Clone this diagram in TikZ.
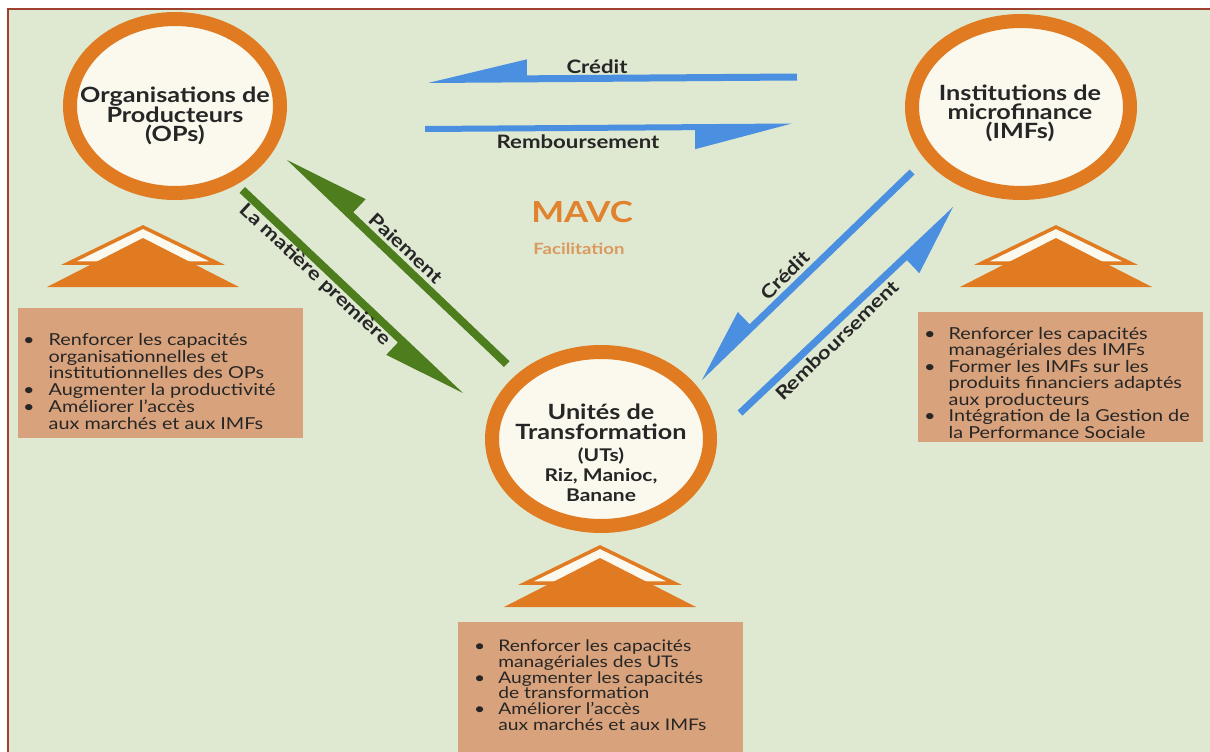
\documentclass[tikz,border=0pt]{standalone}
\usepackage{fontspec}
\setmainfont{Lato}[FakeStretch=1.2]
\usetikzlibrary{calc,shapes.geometric}
\definecolor{bg}{HTML}{DFE9D2}
\definecolor{framec}{HTML}{A0402E}
\definecolor{ring}{HTML}{E07B22}
\definecolor{cream}{HTML}{FBF8EE}
\definecolor{blu}{HTML}{4A8FE0}
\definecolor{grn}{HTML}{4E7D1E}
\definecolor{tanbox}{HTML}{D8A27C}
\definecolor{ink}{HTML}{262626}
\definecolor{mavc}{HTML}{E0822E}
\definecolor{facil}{HTML}{DA9A5E}
% half arrow: colour, start (non-head edge), tip, band thickness, head length, head width
\newcommand\halfarrow[6]{%
  \coordinate (hb) at ($(#3)!#5!(#2)$);
  \fill[#1] (#2) -- (#3) -- ($(hb)!#6!90:(#2)$) -- ($(hb)!#4!90:(#2)$) -- ($(#2)!#4!-90:(#3)$) -- cycle;}
\newcommand\roof[2]{%
  \filldraw[draw=ring, fill=cream, line width=3.5pt, line join=miter] (#1,#2) -- (#1-74,#2+36) -- (#1+74,#2+36) -- cycle;
  \fill[ring] (#1,#2+11) -- (#1-96,#2+60) -- (#1+96,#2+60) -- cycle;}
\begin{document}
\begin{tikzpicture}[x=1pt,y=-1pt,
  ringnode/.style={ellipse, draw=ring, line width=14pt, fill=cream, inner sep=0pt},
  headtxt/.style={font=\fontsize{21}{19}\selectfont\bfseries, text=ink, align=center, inner sep=0pt},
  lab/.style={font=\fontsize{18.5}{20}\selectfont\bfseries, text=ink, inner sep=0pt},
  boxfill/.style={fill=tanbox, inner sep=0pt, anchor=north west},
  boxtext/.style={text=ink, inner sep=0pt, anchor=north west, align=left},
]
\useasboundingbox (0,0) rectangle (1210,752);
\fill[white] (0,0) rectangle (1210,752);
\fill[bg] (7,9) rectangle (1210,752);
\draw[framec, line width=2pt] (7.5,752) -- (7.5,9.5) -- (1210,9.5);

% arrows
\coordinate (c1s) at (797,80.5); \coordinate (c1t) at (428,83);
\halfarrow{blu}{c1s}{c1t}{7pt}{99pt}{23pt}
\coordinate (r1s) at (425,126); \coordinate (r1t) at (792,123.5);
\halfarrow{blu}{r1s}{r1t}{6pt}{97pt}{25pt}
\coordinate (m1s) at (245,187); \coordinate (m1t) at (463,393);
\halfarrow{grn}{m1s}{m1t}{8pt}{82pt}{25pt}
\coordinate (p1s) at (504,367); \coordinate (p1t) at (287,160);
\halfarrow{grn}{p1s}{p1t}{8pt}{84pt}{26pt}
\coordinate (c2s) at (914.5,174.5); \coordinate (c2t) at (702,380);
\halfarrow{blu}{c2s}{c2t}{7pt}{73pt}{24pt}
\coordinate (r2s) at (737.6,410.5); \coordinate (r2t) at (953,207);
\halfarrow{blu}{r2s}{r2t}{7pt}{70pt}{25pt}

% circles
\node[ringnode, minimum width=210pt, minimum height=174pt] (OP) at (175,106) {};
\node[ringnode, minimum width=218pt, minimum height=172pt] (IMF) at (1021,107) {};
\node[ringnode, minimum width=218pt, minimum height=174pt] (UT) at (601,439) {};
\node[headtxt] (OPt) at (175,116) {Organisations de\\Producteurs\\(OPs)};
\node[headtxt] (IMFt) at (1020,113) {Institutions de\\microfinance\\(IMFs)};
\node[headtxt, font=\fontsize{21}{20}\selectfont\bfseries] (UTt) at (601,422) {Unités de\\Transformation};
\node[headtxt, font=\fontsize{17.5}{20}\selectfont\bfseries] (UTs) at (601,475) {(UTs)\\Riz, Manioc,\\Banane};

% labels
\node[lab] (lc1) at (597,67) {Crédit};
\node[lab] (lr1) at (578,142) {Remboursement};
\node[lab, rotate=-42.8] (lm) at (315,275) {La matière première};
\node[lab, rotate=-42.8] (lp) at (406,248) {Paiement};
\node[lab, rotate=44.7] (lc2) at (785,275) {Crédit};
\node[lab, rotate=44] (lr2) at (837,340) {Remboursement};

% centre
\node[font=\fontsize{29}{30}\selectfont\bfseries, text=mavc, inner sep=0pt] (mv) at (582,212) {MAVC};
\node[font=\fontsize{15.5}{16}\selectfont\bfseries, text=facil, inner sep=0pt] (fc) at (579,249) {Facilitation};

% roofs
\roof{143}{227}
\roof{1056}{227}
\roof{600}{547}

% boxes
\node[boxfill, minimum width=285pt, minimum height=130pt] (b1) at (18,308) {};
\node[boxfill, minimum width=285pt, minimum height=130pt] (b2) at (918,312) {};
\node[boxfill, minimum width=285pt, minimum height=130pt] (b3) at (458,622) {};

\node[boxtext, font=\fontsize{16.5}{15.3}\selectfont] (t1) at (23,333) {%
\begin{tabular}{@{}l@{\hspace{14pt}}l@{}}
\textbullet & Renforcer les capacités\\
 & organisationnelles et\\
 & institutionnelles des OPs\\
\textbullet & Augmenter la productivité\\
\textbullet & Améliorer l'accès\\
 & aux marchés et aux IMFs
\end{tabular}};
\node[boxtext, font=\fontsize{16.5}{14.5}\selectfont] (t2) at (924,327) {%
\begin{tabular}{@{}l@{\hspace{13pt}}l@{}}
\textbullet & Renforcer les capacités\\
 & managériales des IMFs\\
\textbullet & Former les IMFs sur les\\
 & produits financiers adaptés\\
 & aux producteurs\\
\textbullet & Intégration de la Gestion de\\
 & la Performance Sociale
\end{tabular}};
\node[boxtext, font=\fontsize{16}{12.8}\selectfont] (t3) at (474,640) {%
\begin{tabular}{@{}l@{\hspace{13pt}}l@{}}
\textbullet & Renforcer les capacités\\
 & managériales des UTs\\
\textbullet & Augmenter les capacités\\
 & de transformation\\
\textbullet & Améliorer l'accès\\
 & aux marchés et aux IMFs
\end{tabular}};
\end{tikzpicture}
\end{document}
